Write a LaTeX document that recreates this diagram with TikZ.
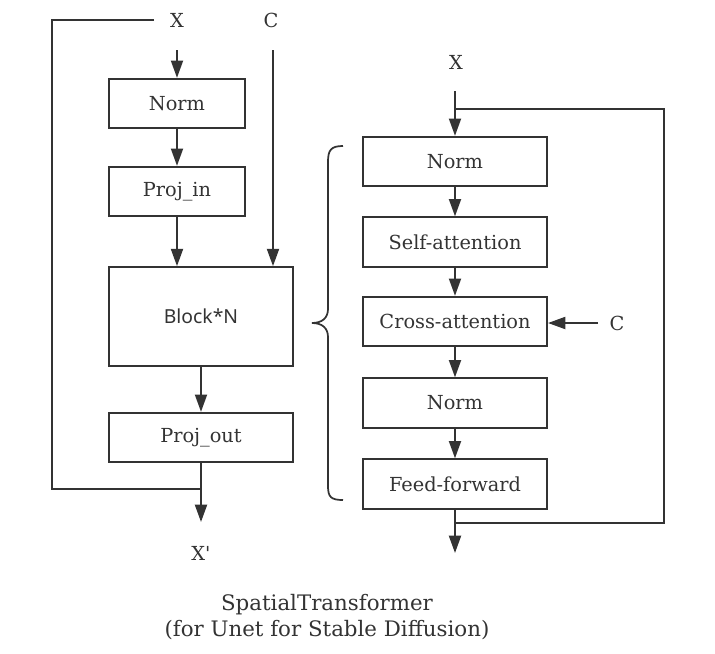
\documentclass[tikz,border=0pt]{standalone}
\usepackage{fontspec}
\setmainfont{DejaVu Serif}
\newfontfamily\blockfont{Noto Sans}
\usepackage{tikz}
\usetikzlibrary{arrows.meta}
\definecolor{ink}{HTML}{333333}
\tikzset{%
  >={Triangle[length=13pt,width=9pt]},
  box/.style={draw,rectangle,minimum width=102pt,minimum height=37pt,
    font=\fontsize{14.5}{16}\selectfont},
  wide/.style={minimum width=138pt},
  lbl/.style={inner sep=0pt,font=\fontsize{14.5}{16}\selectfont},
  caption/.style={align=center,font=\fontsize{16}{20}\selectfont}
}

\begin{document}
\begin{tikzpicture}[x=0.75pt,y=-0.75pt,color=ink,line width=1.5pt]
\useasboundingbox (0,0) rectangle (715,654);

% left column
\node[lbl] (xin) at (177,20) {X};
\node[lbl] (cin) at (271,20) {C};
\coordinate (xs) at (177,50);
\coordinate (cs) at (273,50);
\node[box] (norm) at (177,103.5) {Norm};
\node[box] (projin) at (177,191.5) {Proj\_in};
\node[box,wide,minimum height=74pt,font=\blockfont\fontsize{14.5}{16}\selectfont] (block) at (201,316.5) {Block*N};
\node[box,wide] (projout) at (201,437.5) {Proj\_out};
\coordinate (xend) at (201,522);
\node[lbl] (xout) at (201,553) {X\textquotesingle};

\draw[->] (xs) -- (norm);
\draw[->] (norm) -- (projin);
\draw[->] (projin.south) -- (projin.south |- block.north);
\draw[->] (cs) -- (cs |- block.north);
\draw[->] (block.south) -- (projout.north);
\draw[->] (projout.south) -- (xend);

% residual
\coordinate (lp) at (154,20);
\coordinate (lc) at (52,489);
\draw (lp) -| (lc) -- (lc -| projout.south);

% right column
\node[lbl] (xin2) at (456,62) {X};
\coordinate (xs2) at (455,91);
\node[box,wide] (norm2) at (455,161.5) {Norm};
\node[box,wide] (selfatt) at (455,242) {Self-attention};
\node[box,wide] (crossatt) at (455,321.5) {Cross-attention};
\node[box,wide] (norm3) at (455,403) {Norm};
\node[box,wide] (ff) at (455,484) {Feed-forward};
\coordinate (xend2) at (455,553);
\node[lbl] (cin2) at (617,323) {C};
\coordinate (cs2) at (598,323);

\draw[->] (xs2) -- (norm2);
\draw[->] (norm2) -- (selfatt);
\draw[->] (selfatt) -- (crossatt);
\draw[->] (crossatt) -- (norm3);
\draw[->] (norm3) -- (ff);
\draw[->] (ff) -- (xend2);
\draw[->] (cs2) -- (cs2 -| crossatt.east);

% residual
\coordinate (rtop) at (455,109);
\coordinate (rr) at (664,523);
\draw (rtop) -| (rr) -- (rr -| ff.south);

% brace
\draw[line width=1.3pt] (343,146) .. controls (331,146) and (328,150) .. (328,162) -- (328,309)
  .. controls (328,318) and (322,323) .. (312,323)
  .. controls (322,323) and (328,328) .. (328,337) -- (328,486)
  .. controls (328,497) and (331,500) .. (343,500);

\node[caption] (cap) at (327,617) {SpatialTransformer\\(for Unet for Stable Diffusion)};
\end{tikzpicture}
\end{document}
